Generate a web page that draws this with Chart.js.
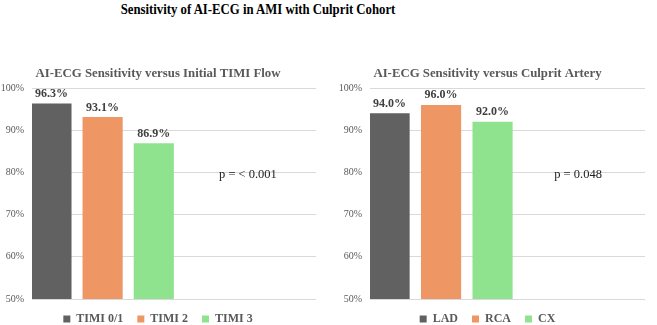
<!DOCTYPE html>
<html>
<head>
<meta charset="utf-8">
<script src="https://cdn.jsdelivr.net/npm/chart.js@4/dist/chart.umd.min.js"></script>
<style>
    body { margin: 0; background: #fff; width: 657px; height: 325px; position: relative; overflow: hidden; }
    #main-title {
        position: absolute; left: 0; top: 1px; width: 516px; line-height: 20px;
        text-align: center; font: bold 14.5px 'Liberation Serif', serif; color: #000;
        transform: scaleX(0.88);
    }
    .box { position: absolute; top: 56px; height: 279px; }
</style>
</head>
<body>
<div id="main-title">Sensitivity of AI-ECG in AMI with Culprit Cohort</div>
<div class="box" style="left:0; width:328px;"><canvas id="timiChart"></canvas></div>
<div class="box" style="left:330px; width:327px;"><canvas id="arteryChart"></canvas></div>

<script>
// data
const timiLabels = ['TIMI 0/1', 'TIMI 2', 'TIMI 3'];
const timiValues = [96.3, 93.1, 86.9];
const timiP = 'p = < 0.001';

const arteryLabels = ['LAD', 'RCA', 'CX'];
const arteryValues = [94.0, 96.0, 92.0];
const arteryP = 'p = 0.048';

const yTicks = [50, 60, 70, 80, 90, 100];

const barColors = ['#616161', '#ef9665', '#8fe38f'];
const serif = "'Liberation Serif', 'Times New Roman', serif";

// value labels above each bar
const barLabelPlugin = {
    id: 'barLabels',
    afterDatasetsDraw(chart) {
        const ctx = chart.ctx;
        ctx.save();
        ctx.font = 'bold 12px ' + serif;
        ctx.fillStyle = '#404040';
        ctx.textAlign = 'center';
        ctx.textBaseline = 'bottom';
        chart.data.datasets.forEach((ds, i) => {
            const meta = chart.getDatasetMeta(i);
            meta.data.forEach((bar, j) => {
                ctx.fillText(ds.data[j].y.toFixed(1) + '%', bar.x, bar.y - 4);
            });
        });
        ctx.restore();
    }
};

// p-value note, placed in data coordinates
const pNotePlugin = {
    id: 'pNote',
    afterDraw(chart, args, opts) {
        const ctx = chart.ctx;
        const x = chart.scales.x.getPixelForValue(opts.x);
        const y = chart.scales.y.getPixelForValue(opts.y);
        ctx.save();
        ctx.font = '12.5px ' + serif;
        ctx.fillStyle = '#222';
        ctx.textAlign = 'center';
        ctx.textBaseline = 'middle';
        ctx.fillText(opts.text, x, y);
        ctx.restore();
    }
};

function makeChart(id, title, labels, values, pText, pX, xMax, axisWidth) {
    const ctx = document.getElementById(id).getContext('2d');
    return new Chart(ctx, {
        type: 'bar',
        data: {
            datasets: labels.map((label, i) => ({
                label: label,
                data: [{ x: i, y: values[i] }],
                backgroundColor: barColors[i],
                barThickness: 39.5,
                grouped: false
            }))
        },
        options: {
            responsive: true,
            maintainAspectRatio: false,
            animation: false,
            layout: { padding: { left: 0, right: 12, top: 0, bottom: 0 } },
            scales: {
                x: { type: 'linear', display: false, offset: false, min: -0.38, max: xMax },
                y: {
                    min: 50, max: 100,
                    afterBuildTicks: axis => { axis.ticks = yTicks.map(v => ({ value: v })); },
                    afterFit: axis => { axis.width = axisWidth; },
                    border: { display: false },
                    grid: { color: '#d9d9d9', drawTicks: false },
                    ticks: {
                        padding: 8,
                        color: '#595959',
                        font: { family: serif, size: 10 },
                        callback: v => v + '%'
                    }
                }
            },
            plugins: {
                title: {
                    display: true,
                    text: title,
                    color: '#595959',
                    font: { family: serif, size: 12.8, weight: 'bold' },
                    padding: { top: 10, bottom: 7 }
                },
                legend: {
                    position: 'bottom',
                    labels: {
                        usePointStyle: true,
                        pointStyle: 'rect',
                        boxWidth: 7,
                        boxHeight: 7,
                        padding: 14,
                        color: '#595959',
                        font: { family: serif, size: 12, weight: 'bold' }
                    }
                },
                tooltip: { enabled: false },
                pNote: { text: pText, x: pX, y: 79.6 }
            }
        },
        plugins: [barLabelPlugin, pNotePlugin]
    });
}

makeChart('timiChart', 'AI-ECG Sensitivity versus Initial TIMI Flow', timiLabels, timiValues, timiP, 3.84, 5.17, 32);
makeChart('arteryChart', 'AI-ECG Sensitivity versus Culprit Artery', arteryLabels, arteryValues, arteryP, 3.66, 4.96, 40);
</script>
</body>
</html>
